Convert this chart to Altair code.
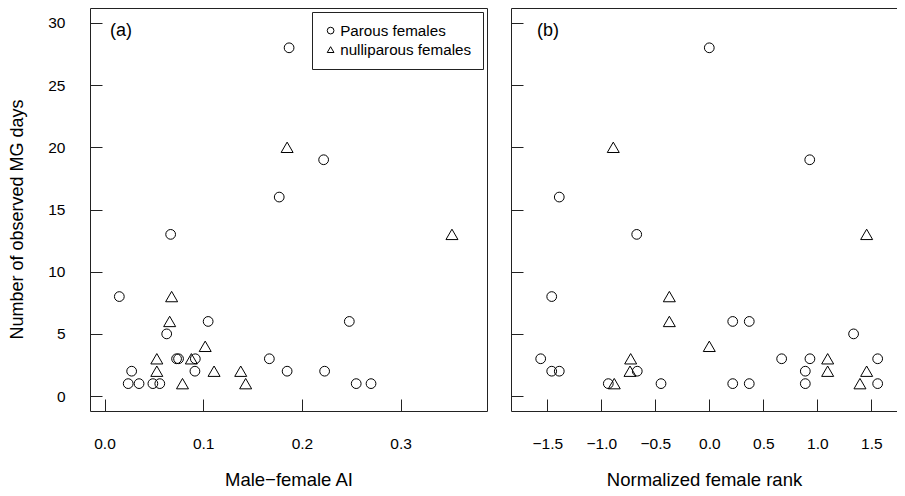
import altair as alt
import pandas as pd

groups = ["Parous females", "nulliparous females"]

# Panel (a): Male-female AI vs number of observed MG days
a_parous_x = [0.015, 0.187, 0.222, 0.177, 0.067, 0.105, 0.248, 0.063, 0.073, 0.075, 0.092,
              0.167, 0.0275, 0.0916, 0.185, 0.223, 0.024, 0.035, 0.049, 0.056, 0.255, 0.270]
a_parous_y = [8, 28, 19, 16, 13, 6, 6, 5, 3, 3, 3, 3, 2, 2, 2, 2, 1, 1, 1, 1, 1, 1]
a_nulli_x = [0.185, 0.068, 0.066, 0.102, 0.053, 0.088, 0.053, 0.111, 0.138, 0.079, 0.143, 0.352]
a_nulli_y = [20, 8, 6, 4, 3, 3, 2, 2, 2, 1, 1, 13]

# Panel (b): Normalized female rank vs number of observed MG days
b_parous_x = [0.0, -1.389, -0.672, -1.459, -1.561, -1.459, -1.389, -0.667, -0.935, -0.447, 0.930,
              0.217, 0.370, 1.336, 0.670, 0.932, 1.559, 0.889, 0.217, 0.370, 0.889, 1.559]
b_parous_y = [28, 16, 13, 8, 3, 2, 2, 2, 1, 1, 19, 6, 6, 5, 3, 3, 3, 2, 1, 1, 1, 1]
b_nulli_x = [-0.889, -0.370, -0.370, 0.0, -0.728, -0.734, -0.880, 1.457, 1.096, 1.096, 1.457, 1.395]
b_nulli_y = [20, 8, 6, 4, 3, 2, 1, 13, 3, 2, 2, 1]

a_xticks = [0.0, 0.1, 0.2, 0.3]
b_xticks = [-1.5, -1.0, -0.5, 0.0, 0.5, 1.0, 1.5]
yticks = [0, 5, 10, 15, 20, 25, 30]

FONT = "Liberation Sans"
H = 403


def make_df(px, py, nx, ny):
    g = [groups[0]] * len(px) + [groups[1]] * len(nx)
    return pd.DataFrame({"x": px + nx, "y": py + ny, "group": g})


def panel(df, xdom, xticks, xtitle, letter, letter_x, W, first):
    xs = alt.Scale(domain=xdom, nice=False, zero=False)
    ys = alt.Scale(domain=[-1.2, 31.2], nice=False, zero=False)
    shape_scale = alt.Scale(domain=groups, range=["circle", "triangle-up"])
    if first:
        leg = alt.Legend(title=None, orient="top-right", offset=4,
                         strokeColor="#222", fillColor="white", padding=11,
                         symbolSize=45, symbolStrokeWidth=1, symbolStrokeColor="black",
                         labelFont=FONT, labelFontSize=15.2, labelOffset=2,
                         rowPadding=3, labelColor="black")
        yaxis = alt.Axis(orient="left", values=yticks, ticks=False, tickSize=0,
                         labelPadding=25, domain=True,
                         title="Number of observed MG days", titleX=-68, titleY=211,
                         titleBaseline="alphabetic", titleFontSize=18)
    else:
        leg = None
        yaxis = alt.Axis(orient="left", values=yticks, ticks=False, tickSize=0,
                         labels=False, domain=True, title=None)

    xenc = alt.X("x:Q", scale=xs,
                 axis=alt.Axis(orient="bottom", values=xticks, format=".1f", ticks=False,
                               tickSize=0, labelPadding=25, domain=True, title=xtitle,
                               titleY=74, titleBaseline="alphabetic"))
    yenc = alt.Y("y:Q", scale=ys, axis=yaxis)

    circ = alt.Chart(df).transform_filter(alt.datum.group == groups[0]).mark_point(
        filled=False, color="black", strokeWidth=1, opacity=1, size=95
    ).encode(x=xenc, y=yenc, shape=alt.Shape("group:N", scale=shape_scale, legend=leg))

    tri = alt.Chart(df).transform_filter(alt.datum.group == groups[1]).mark_point(
        filled=False, color="black", strokeWidth=1, opacity=1, size=144
    ).encode(x=xenc, y=yenc, shape=alt.Shape("group:N", scale=shape_scale, legend=leg))

    tk = alt.Chart(df).mark_point(opacity=0).encode(
        x=alt.X("x:Q", scale=xs,
                axis=alt.Axis(orient="top", offset=-H, values=xticks, labels=False,
                              domain=False, ticks=True, tickSize=12, title=None,
                              minExtent=0, maxExtent=0)),
        y=alt.Y("y:Q", scale=ys,
                axis=alt.Axis(orient="right", offset=-W, values=yticks, labels=False,
                              domain=False, ticks=True, tickSize=12, title=None,
                              minExtent=0, maxExtent=0)),
    )

    if first:
        br_y = alt.Y("y:Q", scale=ys,
                     axis=alt.Axis(orient="right", values=yticks, labels=False, ticks=False,
                                   domain=True, title=None, minExtent=0, maxExtent=0))
    else:
        br_y = alt.Y("y:Q", scale=ys, axis=None)
    br = alt.Chart(df).mark_point(opacity=0).encode(
        x=alt.X("x:Q", scale=xs,
                axis=alt.Axis(orient="top", values=xticks, labels=False, ticks=False,
                              domain=True, title=None, minExtent=0, maxExtent=0)),
        y=br_y,
    )

    lab = alt.Chart(pd.DataFrame({"t": [letter]})).mark_text(
        align="left", baseline="middle", fontSize=18, font=FONT, color="black"
    ).encode(text="t:N", x=alt.value(letter_x), y=alt.value(23))

    pts = alt.layer(circ, tri)
    return alt.layer(pts, tk, br, lab).resolve_scale(x="independent", y="independent").properties(
        width=W, height=H)


df_a = make_df(a_parous_x, a_parous_y, a_nulli_x, a_nulli_y)
df_b = make_df(b_parous_x, b_parous_y, b_nulli_x, b_nulli_y)

pa = panel(df_a, [-0.0147, 0.3875], a_xticks, "Male\u2212female AI", "(a)", 20, 397, True)
pb = panel(df_b, [-1.836, 1.738], b_xticks, "Normalized female rank", "(b)", 26, 386, False)

chart = alt.hconcat(pa, pb, spacing=23).resolve_scale(
    shape="independent"
).resolve_legend(shape="independent").properties(
    padding={"left": 0, "top": 0, "right": 0, "bottom": 0}
).configure_view(strokeWidth=0).configure_axis(
    grid=False, labelFont=FONT, titleFont=FONT, labelFontSize=15.5, titleFontSize=18.5,
    titleFontWeight="normal", labelColor="black", titleColor="black",
    domainColor="#222", tickColor="#222", domainWidth=1, tickWidth=1,
)

chart.save("out.html", embed_options={"renderer": "svg", "actions": False})
